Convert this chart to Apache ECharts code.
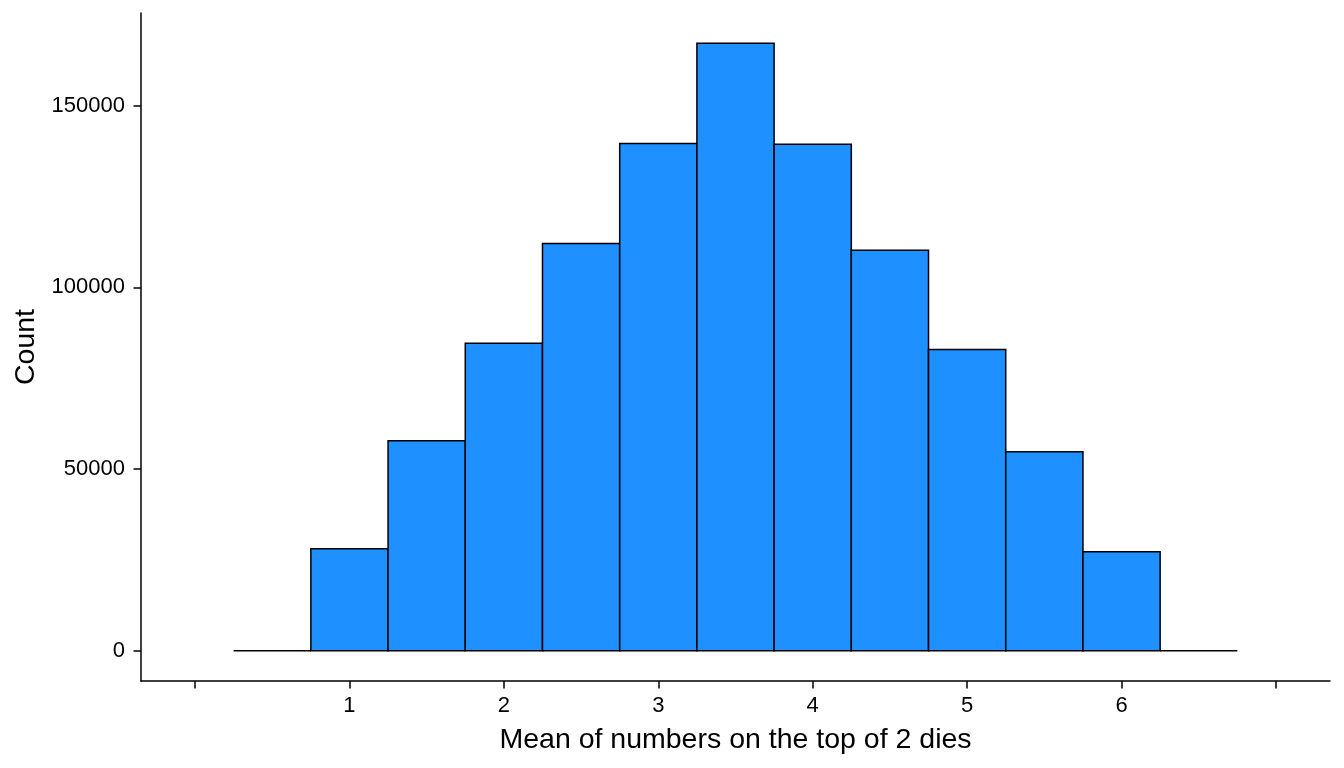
<!DOCTYPE html>
<html>
<head>
<meta charset="utf-8">
<title>Mean of 2 dies</title>
<script src="https://cdn.jsdelivr.net/npm/echarts@6/dist/echarts.min.js"></script>
<style>
    html, body { margin: 0; padding: 0; background: #fff; }
    #mainChartBlock { width: 1344px; height: 768px; }
</style>
</head>
<body>
<div id="mainChartBlock"></div>
<script>
// histogram bins (binwidth 0.5), centre of each bin
var binMids = [0.5, 1, 1.5, 2, 2.5, 3, 3.5, 4, 4.5, 5, 5.5, 6, 6.5];
var binWidth = 0.5;
var counts = [0, 28030, 57800, 84620, 112100, 139660, 167220, 139390, 110250, 82880, 54770, 27210, 0];

var xTicks = [0, 1, 2, 3, 4, 5, 6, 7];
var xLabels = [1, 2, 3, 4, 5, 6];
var yTicks = [0, 50000, 100000, 150000];

var fontName = "'Liberation Sans', Arial, sans-serif";

var histData = [];
for (var i = 0; i < binMids.length; i++) {
    histData.push([binMids[i] - binWidth / 2, binMids[i] + binWidth / 2, counts[i]]);
}

function renderBin(params, api) {
    var p0 = api.coord([api.value(0), 0]);
    var p1 = api.coord([api.value(1), api.value(2)]);
    if (api.value(2) == 0) {
        return {
            type: 'line',
            shape: { x1: p0[0], y1: p0[1], x2: p1[0], y2: p0[1] },
            style: { stroke: '#000', lineWidth: 1.5 }
        };
    }
    return {
        type: 'rect',
        shape: { x: p0[0], y: p1[1], width: p1[0] - p0[0], height: p0[1] - p1[1] },
        style: { fill: '#1E90FF', stroke: '#000', lineWidth: 1.5 }
    };
}

var myChart = echarts.init(document.getElementById('mainChartBlock'));
var option = {
    animation: false,
    backgroundColor: '#fff',
    grid: {
        left: 141,
        right: 14,
        top: 13,
        bottom: 87
    },
    xAxis: {
        type: 'value',
        min: -0.35,
        max: 7.35,
        name: 'Mean of numbers on the top of 2 dies',
        nameLocation: 'middle',
        nameGap: 45,
        nameTextStyle: { color: '#000', fontSize: 28.5, fontFamily: fontName },
        axisLine: { show: true, onZero: false, lineStyle: { color: '#000', width: 1.5 } },
        axisTick: { show: true, length: 7.5, customValues: xTicks, lineStyle: { color: '#000', width: 1.5 } },
        axisLabel: {
            customValues: xLabels, color: '#000', fontSize: 22, fontFamily: fontName, margin: 14,
            formatter: function (v) { return String(v); }
        },
        splitLine: { show: false }
    },
    yAxis: {
        type: 'value',
        min: -8360,
        max: 175560,
        name: 'Count',
        nameLocation: 'middle',
        nameGap: 95,
        nameTextStyle: { color: '#000', fontSize: 28.5, fontFamily: fontName },
        axisLine: { show: true, onZero: false, lineStyle: { color: '#000', width: 1.5 } },
        axisTick: { show: true, length: 7.5, customValues: yTicks, lineStyle: { color: '#000', width: 1.5 } },
        axisLabel: {
            customValues: yTicks, color: '#000', fontSize: 22, fontFamily: fontName, margin: 16,
            formatter: function (v) { return String(v); }
        },
        splitLine: { show: false }
    },
    series: [
        {
            type: 'custom',
            renderItem: renderBin,
            encode: { x: [0, 1], y: 2 },
            data: histData
        }
    ]
};
myChart.setOption(option);
</script>
</body>
</html>
